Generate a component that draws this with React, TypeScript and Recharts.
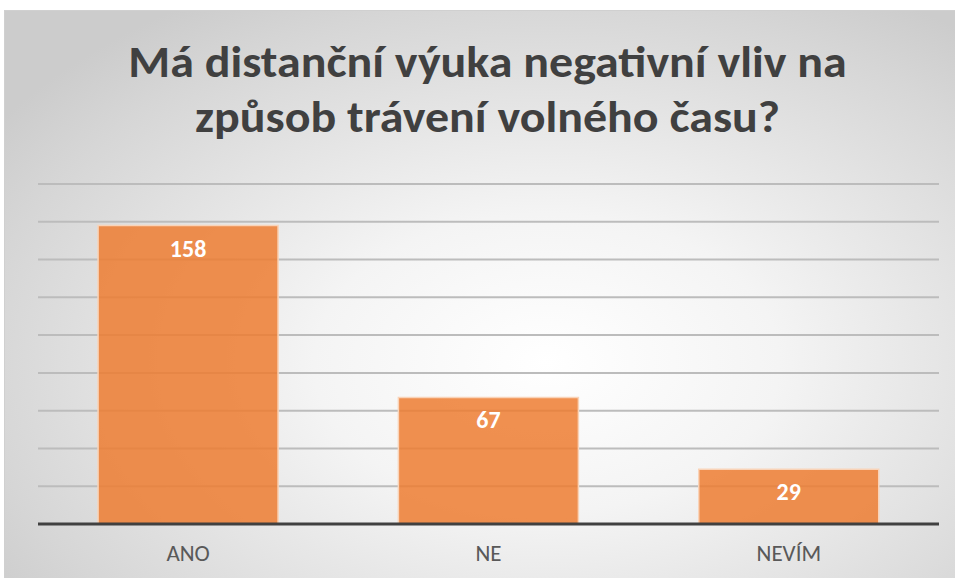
import { Bar, BarChart, CartesianGrid, LabelList, XAxis, YAxis } from 'recharts';

const categories = ['ANO', 'NE', 'NEVÍM'];
const counts = [158, 67, 29];
const yTicks = [0, 20, 40, 60, 80, 100, 120, 140, 160, 180];
const titleLines = ['Má distanční výuka negativní vliv na', 'způsob trávení volného času?'];

const BAR_COLOR = '#ED7D31';
const FONT = "Carlito, Calibri, 'Liberation Sans Narrow', 'DejaVu Sans Condensed', sans-serif";

const data = categories.map((name, i) => ({ name, value: counts[i] }));

export default function App() {
  return (
    <div
      style={{
        position: 'absolute',
        left: 4,
        top: 10,
        width: 951,
        height: 568,
        boxSizing: 'border-box',
        borderTop: '1px solid #d0d0d0',
        borderLeft: '1px solid #d0d0d0',
        background: 'radial-gradient(ellipse 70% 75% at 57% 62%, #ffffff 0%, #f4f4f4 35%, #d6d6d6 85%, #cccccc 100%)',
        fontFamily: FONT,
      }}
    >
      <div
        style={{
          position: 'absolute',
          top: 24,
          left: 7,
          width: 951,
          textAlign: 'center',
          color: '#404040',
          fontWeight: 700,
          fontSize: 44,
          lineHeight: '55px',
          transform: 'scaleX(1.09)',
        }}
      >
        {titleLines.map((line) => (
          <div key={line}>{line}</div>
        ))}
      </div>
      <BarChart
        width={951}
        height={568}
        data={data}
        margin={{ top: 173, right: 17, bottom: 15, left: 33 }}
        barCategoryGap="20%"
      >
        <CartesianGrid vertical={false} stroke="#bcbcbc" strokeWidth={2} />
        <YAxis hide domain={[0, 180]} ticks={yTicks} />
        <XAxis
          dataKey="name"
          height={40}
          axisLine={{ stroke: '#404040', strokeWidth: 3 }}
          tickLine={false}
          tick={{ fill: '#595959', fontSize: 23, fontFamily: FONT }}
          dy={13}
        />
        <Bar
          dataKey="value"
          fill={BAR_COLOR}
          fillOpacity={0.85}
          stroke="#f9d3b8"
          strokeWidth={1.5}
          isAnimationActive={false}
        >
          <LabelList
            dataKey="value"
            position="insideTop"
            offset={14}
            fill="#ffffff"
            fontSize={24}
            fontWeight={700}
            fontFamily={FONT}
          />
        </Bar>
      </BarChart>
    </div>
  );
}
